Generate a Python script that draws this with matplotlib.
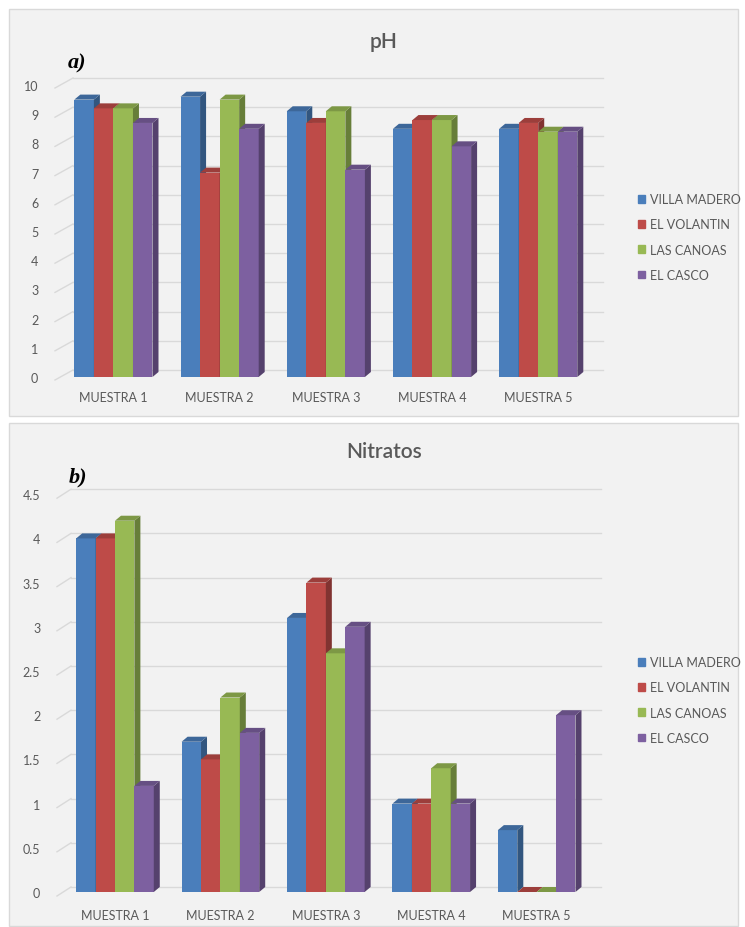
import numpy as np
import matplotlib.pyplot as plt
from matplotlib.patches import Polygon, Rectangle, Patch
from matplotlib.colors import to_rgb

plt.rcParams['font.family'] = ['Lato', 'DejaVu Sans']

muestras = ["MUESTRA 1", "MUESTRA 2", "MUESTRA 3", "MUESTRA 4", "MUESTRA 5"]
sitios = ["VILLA MADERO", "EL VOLANTIN", "LAS CANOAS", "EL CASCO"]
colores = ["#4a7ebb", "#be4b48", "#98b954", "#7d60a0"]

# pH por sitio
ph_villa_madero = [9.5, 9.6, 9.1, 8.5, 8.5]
ph_el_volantin = [9.2, 7.0, 8.7, 8.8, 8.7]
ph_las_canoas = [9.2, 9.5, 9.1, 8.8, 8.4]
ph_el_casco = [8.7, 8.5, 7.1, 7.9, 8.4]

# nitratos por sitio
nit_villa_madero = [4.0, 1.7, 3.1, 1.0, 0.7]
nit_el_volantin = [4.0, 1.5, 3.5, 1.0, 0.0]
nit_las_canoas = [4.2, 2.2, 2.7, 1.4, 0.0]
nit_el_casco = [1.2, 1.8, 3.0, 1.0, 2.0]

ph_ticks = [0, 1, 2, 3, 4, 5, 6, 7, 8, 9, 10]
ph_labels = ["0", "1", "2", "3", "4", "5", "6", "7", "8", "9", "10"]
nit_ticks = [0, 0.5, 1, 1.5, 2, 2.5, 3, 3.5, 4, 4.5]
nit_labels = ["0", "0.5", "1", "1.5", "2", "2.5", "3", "3.5", "4", "4.5"]

W, H = 745, 928
GRIS = "#595959"


def caja(l, t, r, b):
    # pixel box -> figure fraction [left, bottom, width, height]
    return [l / W, 1 - b / H, (r - l) / W, (b - t) / H]


def oscuro(c, f):
    return tuple(np.array(to_rgb(c)) * f)


def panel(ax, series, ticks, labels, ymax, lab_off, grid_off, diag_px, xpad):
    ax.set_xlim(-0.55, 4.61)
    ax.set_ylim(0, ymax)
    ax.patch.set_visible(False)
    for s in ax.spines.values():
        s.set_visible(False)

    sx = ax.bbox.width / (4.61 + 0.55)
    sy = ax.bbox.height / ymax

    # gridlines on the back wall with a short diagonal to the front
    x0 = -0.55
    xb = x0 + diag_px / sx
    for v in ticks:
        yb = v + grid_off / sy
        ax.plot([xb, 4.61], [yb, yb], color="#d9d9d9", lw=1, zorder=1, clip_on=False)
        ax.plot([x0, xb], [v - lab_off / sy, yb], color="#d9d9d9", lw=1, zorder=1, clip_on=False)

    w = 0.184
    ddx = 6 / sx
    ddy = 5 / sy
    x = np.arange(len(muestras))
    k = 0
    for i in range(len(muestras)):
        for j, vals in enumerate(series):
            v = vals[i]
            xc = x[i] + (j - 1.5) * w
            z = 3 + 0.01 * k
            k += 1
            ax.bar(xc, v, w, color=colores[j], zorder=z, linewidth=0)
            l, r = xc - w / 2, xc + w / 2
            ax.add_patch(Polygon([(r, 0), (r + ddx, ddy), (r + ddx, v + ddy), (r, v)],
                                 closed=True, fc=oscuro(colores[j], 0.68), lw=0, zorder=z))
            ax.add_patch(Polygon([(l, v), (l + ddx, v + ddy), (r + ddx, v + ddy), (r, v)],
                                 closed=True, fc=oscuro(colores[j], 0.82), lw=0, zorder=z))

    ax.set_xticks(x, muestras)
    ax.set_yticks(ticks, labels)
    ax.tick_params(axis="both", length=0, labelsize=9, labelcolor=GRIS)
    ax.tick_params(axis="x", pad=xpad)
    ax.tick_params(axis="y", pad=12)


fig = plt.figure(figsize=(7.45, 9.28), dpi=100)

# chart backgrounds
for t, b in [(10, 417), (424, 927)]:
    fig.add_artist(Rectangle((9 / W, 1 - b / H), 729 / W, (b - t) / H, transform=fig.transFigure,
                             fc="#f2f2f2", ec="#d9d9d9", lw=1, zorder=0))

ax1 = fig.add_axes(caja(55, 378 - 10.5 * 29.2, 603, 378))
panel(ax1, [ph_villa_madero, ph_el_volantin, ph_las_canoas, ph_el_casco],
      ph_ticks, ph_labels, 10.5, 3, 7, 18, 10)

ax2 = fig.add_axes(caja(57, 893 - 4.75 * 88.4, 601, 893))
panel(ax2, [nit_villa_madero, nit_el_volantin, nit_las_canoas, nit_el_casco],
      nit_ticks, nit_labels, 4.75, 4, 5, 14, 12)

fig.text(384 / W, 1 - 42 / H, "pH", ha="center", va="center", fontsize=15,
         color=GRIS, weight="semibold")
fig.text(384 / W, 1 - 452 / H, "Nitratos", ha="center", va="center", fontsize=15,
         color=GRIS, weight="semibold")
fig.text(77 / W, 1 - 63 / H, "a)", ha="center", va="center", fontsize=16,
         family="Liberation Serif", style="italic", weight="bold")
fig.text(78 / W, 1 - 477 / H, "b)", ha="center", va="center", fontsize=16,
         family="Liberation Serif", style="italic", weight="bold")

handles = [Patch(color=c) for c in colores]
for yc in [238, 701]:
    fig.legend(handles, sitios, loc="center left", bbox_to_anchor=(632 / W, 1 - yc / H),
               frameon=False, fontsize=9, labelcolor=GRIS, handlelength=0.55, handleheight=0.55,
               handletextpad=0.4, labelspacing=1.05, borderpad=0)

fig.savefig("out.png", dpi=100)
